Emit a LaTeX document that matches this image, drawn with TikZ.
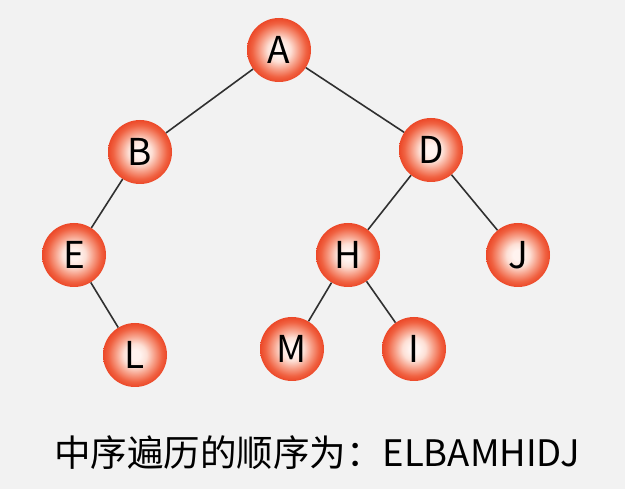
\documentclass[tikz,border=0pt]{standalone}
\usepackage{fontspec}
\setmainfont{Noto Sans CJK SC}
\definecolor{bgc}{HTML}{F2F2F2}
\definecolor{ballc}{HTML}{FFF3EF}
\definecolor{ballp}{HTML}{FDE0D6}
\definecolor{ballm}{HTML}{F7A089}
\definecolor{ballr}{HTML}{F06242}
\definecolor{balle}{HTML}{EC4828}
\definecolor{edgec}{HTML}{303030}
\pgfdeclareradialshading{nodeball}{\pgfpoint{0bp}{0bp}}{color(0bp)=(ballc); color(4bp)=(ballc); color(9bp)=(ballp); color(15bp)=(ballm); color(21bp)=(ballr); color(25bp)=(balle); color(50bp)=(balle)}
\tikzset{
  tn/.style={circle, minimum size=64pt, inner sep=0pt, shading=nodeball,
    font=\fontsize{37}{40}\selectfont, text=black},
  tl/.style={draw=edgec, line width=1.6pt}
}
\begin{document}
\begin{tikzpicture}[x=1pt,y=-1pt]
\fill[bgc] (0,0) rectangle (625,489);
\useasboundingbox (0,0) rectangle (625,489);
\node[tn] (A) at (279,50) {A};
\node[tn] (B) at (140,152) {B};
\node[tn] (D) at (431,150) {D};
\node[tn] (E) at (74,255) {E};
\node[tn] (H) at (348,255) {H};
\node[tn] (J) at (518,255) {J};
\node[tn] (L) at (135,355) {L};
\node[tn] (M) at (292,349) {M};
\node[tn] (I) at (414,349) {I};
\draw[tl] (A) -- (B);
\draw[tl] (A) -- (D);
\draw[tl] (B) -- (E);
\draw[tl] (E) -- (L);
\draw[tl] (D) -- (H);
\draw[tl] (D) -- (J);
\draw[tl] (H) -- (M);
\draw[tl] (H) -- (I);
\node[font=\fontsize{36.5}{40}\selectfont, text=black, inner sep=0pt] (T) at (317,453) {中序遍历的顺序为：ELBAMHIDJ};
\end{tikzpicture}
\end{document}
